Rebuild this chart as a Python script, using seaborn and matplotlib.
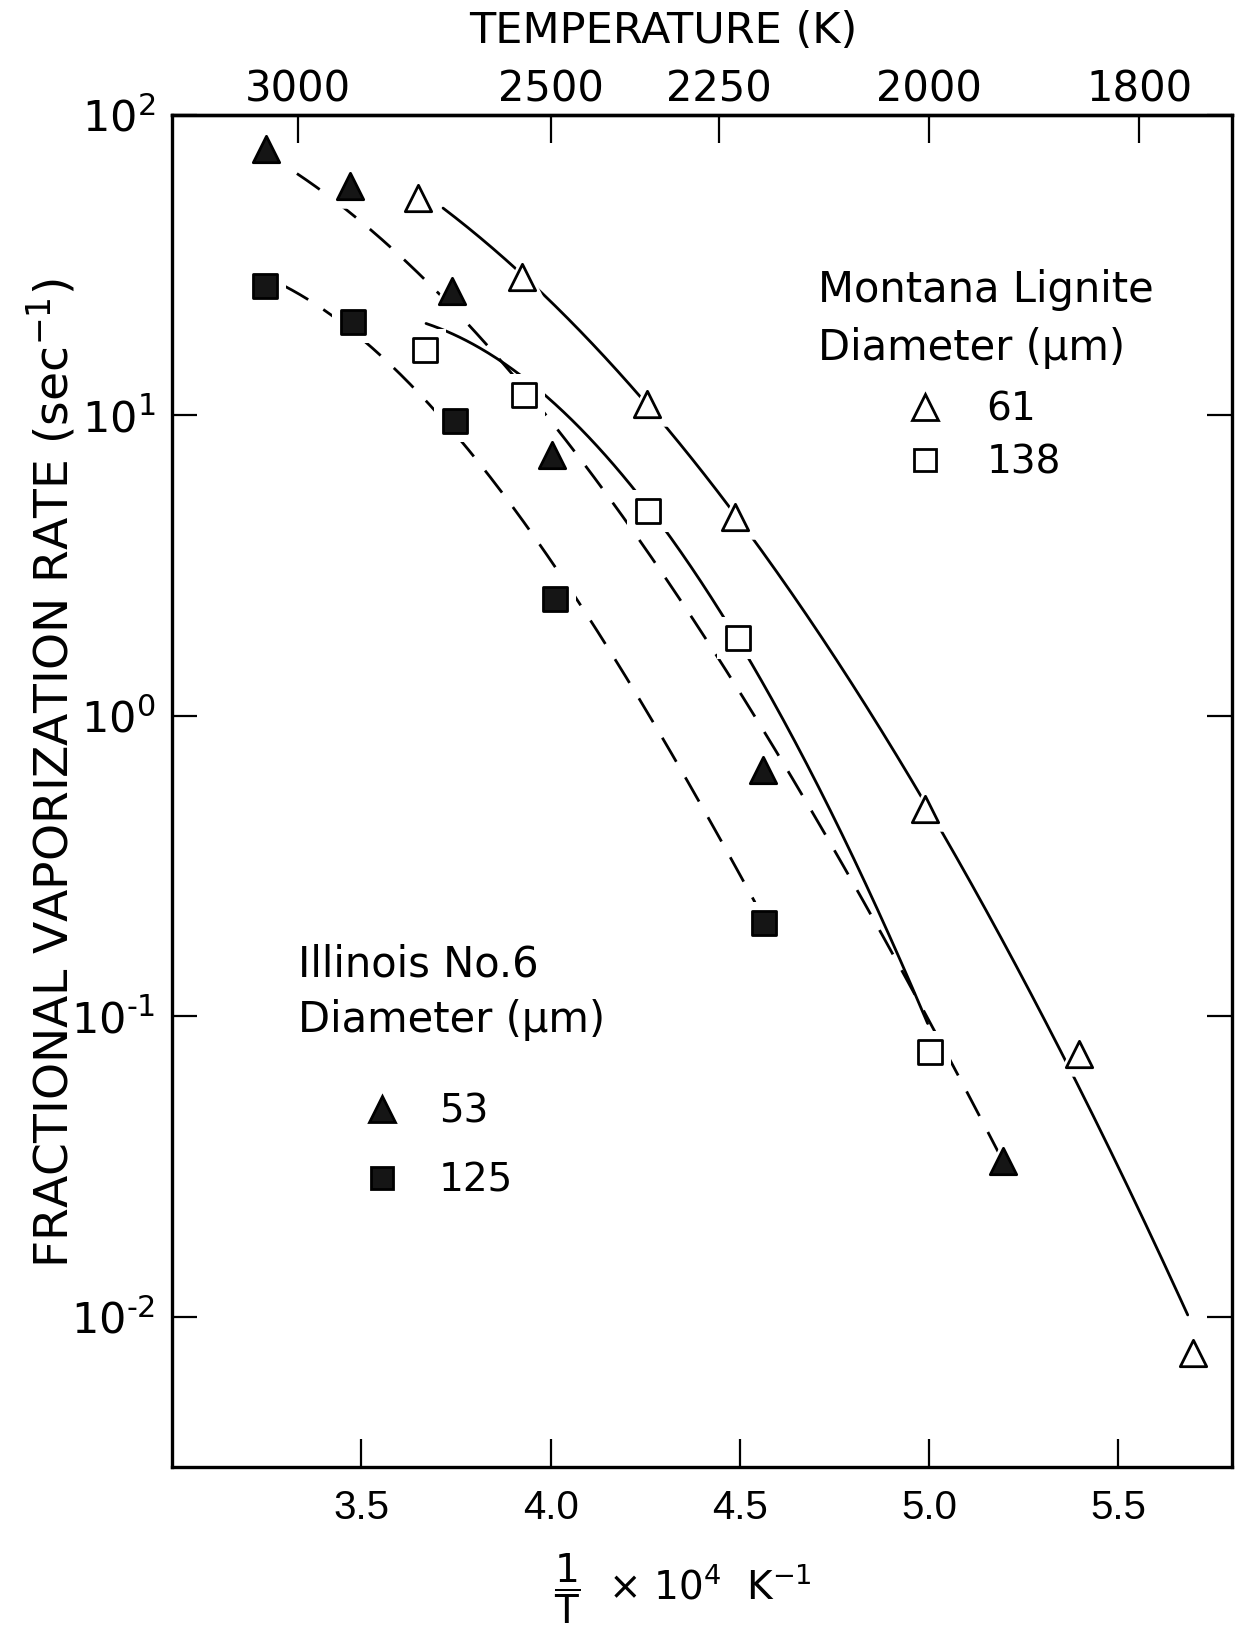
import numpy as np
import matplotlib
matplotlib.use("Agg")
import matplotlib.pyplot as plt
import seaborn as sns
from matplotlib.lines import Line2D
from matplotlib.ticker import NullLocator, LogLocator, FixedLocator, FuncFormatter

# ---------------- data ----------------
# x = 1/T x 10^4 (K^-1), y = fractional vaporization rate (s^-1)
il53_x = [3.248, 3.471, 3.740, 4.003, 4.560, 5.194]
il53_y = [77.0, 58.0, 26.0, 7.4, 0.66, 0.033]

il125_x = [3.245, 3.478, 3.747, 4.012, 4.563]
il125_y = [27.0, 20.5, 9.6, 2.45, 0.205]

ml61_x = [3.649, 3.925, 4.256, 4.487, 4.990, 5.396, 5.697]
ml61_y = [53.0, 29.0, 10.9, 4.6, 0.49, 0.075, 0.0076]

ml138_x = [3.667, 3.931, 4.258, 4.494, 5.001]
ml138_y = [16.5, 11.7, 4.8, 1.82, 0.076]

# hand-drawn trend curves
c53_x = [3.330, 3.422, 3.473, 3.524, 3.580, 3.615, 3.681, 3.767, 3.909, 3.980,
         4.102, 4.188, 4.269, 4.388, 4.546, 4.692, 4.828, 4.953, 5.077, 5.193]
c53_y = [62.7, 52.5, 47.6, 42.3, 36.3, 32.5, 27.4, 21.0, 13.9, 10.05,
         6.34, 4.66, 3.36, 1.94, 0.98, 0.474, 0.245, 0.126, 0.0625, 0.0332]

c125_x = [3.296, 3.432, 3.529, 3.706, 3.757, 3.950, 4.031, 4.112, 4.247,
          4.323, 4.399, 4.497, 4.540]
c125_y = [26.9, 21.0, 17.1, 10.05, 8.18, 4.13, 2.88, 1.98, 1.09,
          0.752, 0.494, 0.292, 0.245]

c61_x = [3.716, 3.894, 3.990, 4.218, 4.310, 4.451, 4.540, 4.671, 4.823,
         4.963, 5.040, 5.213, 5.332, 5.403, 5.539, 5.683]
c61_y = [47.6, 32.7, 24.9, 12.6, 9.08, 5.35, 3.75, 2.21, 1.09,
         0.577, 0.397, 0.158, 0.0851, 0.0586, 0.0259, 0.0096]

c138_x = [3.671, 3.787, 3.914, 3.985, 4.102, 4.203, 4.315, 4.457, 4.540,
          4.649, 4.736, 4.833, 4.909, 4.996]
c138_y = [20.3, 17.4, 13.8, 11.7, 8.61, 5.81, 4.06, 2.12, 1.42,
          0.804, 0.516, 0.267, 0.164, 0.097]

x_ticks = [3.5, 4.0, 4.5, 5.0, 5.5]
x_ticklabels = ["3.5", "4.0", "4.5", "5.0", "5.5"]
temp_ticks = [3000, 2500, 2250, 2000, 1800]
temp_ticklabels = ["3000", "2500", "2250", "2000", "1800"]

montana_title = ["Montana Lignite", "Diameter (\u03bcm)"]
illinois_title = ["Illinois No.6", "Diameter (\u03bcm)"]
montana_labels = ["61", "138"]
illinois_labels = ["53", "125"]

# ---------------- style ----------------
sns.set_style("ticks")
plt.rcParams["font.family"] = ["DejaVu Sans"]
plt.rcParams["mathtext.fontset"] = "dejavusans"
for k in ["text.color", "axes.labelcolor", "xtick.color", "ytick.color",
          "axes.edgecolor"]:
    plt.rcParams[k] = "black"

W, H = 1242, 1632
L, R, T, B = 172, 1232, 115, 1467
fig = plt.figure(figsize=(W / 100, H / 100), dpi=100)
fig.patch.set_facecolor("white")
ax = fig.add_axes([L / W, 1 - B / H, (R - L) / W, (B - T) / H])
ax.set_facecolor("white")
for s in ax.spines.values():
    s.set_color("black")
    s.set_linewidth(2.4)

ax.set_yscale("log")
ax.set_xlim(3.0, 5.8)
ax.set_ylim(10 ** -2.5, 100)

DASH = (0, (10, 6.5))
LW = 2.0


def smooth(cx, cy, deg=3, n=300):
    """Smooth the traced curve points (cubic in log10 space)."""
    c = np.polyfit(cx, np.log10(cy), deg)
    xs = np.linspace(cx[0], cx[-1], n)
    return xs, 10 ** np.polyval(c, xs)


# trend curves
for cx, cy, ls in [(c53_x, c53_y, DASH), (c125_x, c125_y, DASH),
                   (c61_x, c61_y, "-"), (c138_x, c138_y, "-")]:
    sx, sy = smooth(cx, cy)
    sns.lineplot(x=sx, y=sy, ax=ax, color="black", linewidth=LW,
                 linestyle=ls, sort=False, estimator=None, zorder=2)

TRI_S = 19 ** 2
SQ_S = 17.5 ** 2
TRI_HALO = 32 ** 2
SQ_HALO = 30 ** 2

series = [
    (il53_x, il53_y, "^", "#151515", TRI_S, TRI_HALO),
    (il125_x, il125_y, "s", "#151515", SQ_S, SQ_HALO),
    (ml61_x, ml61_y, "^", "white", TRI_S, TRI_HALO),
    (ml138_x, ml138_y, "s", "white", SQ_S, SQ_HALO),
]
# white halos (gaps in the lines around symbols)
for xs_, ys_, m, fc, s, hs in series:
    sns.scatterplot(x=xs_, y=ys_, ax=ax, marker=m, s=hs, color="white",
                    edgecolor="white", linewidth=0, zorder=3, legend=False)
for xs_, ys_, m, fc, s, hs in series:
    sns.scatterplot(x=xs_, y=ys_, ax=ax, marker=m, s=s, color=fc,
                    edgecolor="black", linewidth=2.0, zorder=4, legend=False)

# ---------------- axes / ticks ----------------
ax.xaxis.set_major_locator(FixedLocator(x_ticks))
ax.set_xticklabels(x_ticklabels)
ax.xaxis.set_minor_locator(NullLocator())
ax.tick_params(axis="x", which="major", direction="in", length=20, width=1.6,
               bottom=True, top=False, pad=16, labelsize=29, colors="black")
for lab in ax.get_xticklabels():
    lab.set_fontfamily("Liberation Sans")


def log_fmt(v, pos):
    e = int(round(np.log10(v)))
    return r"$10^{%s}$" % str(e).replace("-", "\u2010")


ax.yaxis.set_major_locator(LogLocator(base=10, numticks=10))
ax.yaxis.set_minor_locator(NullLocator())
ax.yaxis.set_major_formatter(FuncFormatter(log_fmt))
ax.tick_params(axis="y", which="major", direction="in", length=18, width=1.6,
               left=True, right=True, pad=12, labelsize=31, colors="black")

secax = ax.secondary_xaxis(
    "top",
    functions=(lambda x: 1e4 / np.where(np.asarray(x) == 0, 1e-9, x),
               lambda t: 1e4 / np.where(np.asarray(t) == 0, 1e-9, t)))
secax.xaxis.set_major_locator(FixedLocator(temp_ticks))
secax.set_xticklabels(temp_ticklabels)
secax.xaxis.set_minor_locator(NullLocator())
secax.tick_params(axis="x", direction="in", length=20, width=1.6, pad=3,
                  labelsize=30, colors="black")
secax.spines["top"].set_linewidth(2.4)
secax.set_xlabel("TEMPERATURE (K)", fontsize=31, va="center")
secax.xaxis.set_label_coords(0.463, 1.062, transform=ax.transAxes)

ax.set_xlabel(r"$\dfrac{1}{\mathrm{T}}$  $\times$ 10$^{4}$  K$^{-1}$",
              fontsize=28, va="center")
ax.xaxis.set_label_coords(0.482, -0.090)
ax.set_ylabel(r"FRACTIONAL VAPORIZATION RATE (sec$^{-1}$)", fontsize=34,
              va="center")
ax.yaxis.set_label_coords(-0.114, 0.513)

# ---------------- legends ----------------
TXT = 30
LEG = 28
ax.text(0.609, 0.8617, montana_title[0], transform=ax.transAxes,
        fontsize=TXT, ha="left", va="baseline")
ax.text(0.609, 0.8188, montana_title[1], transform=ax.transAxes,
        fontsize=TXT, ha="left", va="baseline")
ax.text(0.1189, 0.3627, illinois_title[0], transform=ax.transAxes,
        fontsize=TXT, ha="left", va="baseline")
ax.text(0.1189, 0.3220, illinois_title[1], transform=ax.transAxes,
        fontsize=TXT, ha="left", va="baseline")

mh = [Line2D([], [], ls="none", marker="^", markersize=19, mfc="white",
             mec="black", mew=2.0),
      Line2D([], [], ls="none", marker="s", markersize=15.5, mfc="white",
             mec="black", mew=2.0)]
ih = [Line2D([], [], ls="none", marker="^", markersize=19, mfc="#151515",
             mec="black", mew=2.0),
      Line2D([], [], ls="none", marker="s", markersize=15.5, mfc="#151515",
             mec="black", mew=2.0)]
leg1 = ax.legend(mh, montana_labels, loc="upper left",
                 bbox_to_anchor=(0.6918, 0.796), bbox_transform=ax.transAxes,
                 frameon=False, fontsize=LEG, handlelength=1.0,
                 handletextpad=1.09, labelspacing=0.38, borderpad=0,
                 borderaxespad=0, numpoints=1)
ax.add_artist(leg1)
leg2 = ax.legend(ih, illinois_labels, loc="upper left",
                 bbox_to_anchor=(0.1797, 0.277), bbox_transform=ax.transAxes,
                 frameon=False, fontsize=LEG, handlelength=1.0,
                 handletextpad=0.965, labelspacing=0.81, borderpad=0,
                 borderaxespad=0, numpoints=1)

fig.savefig("out.png", dpi=100, facecolor="white")
